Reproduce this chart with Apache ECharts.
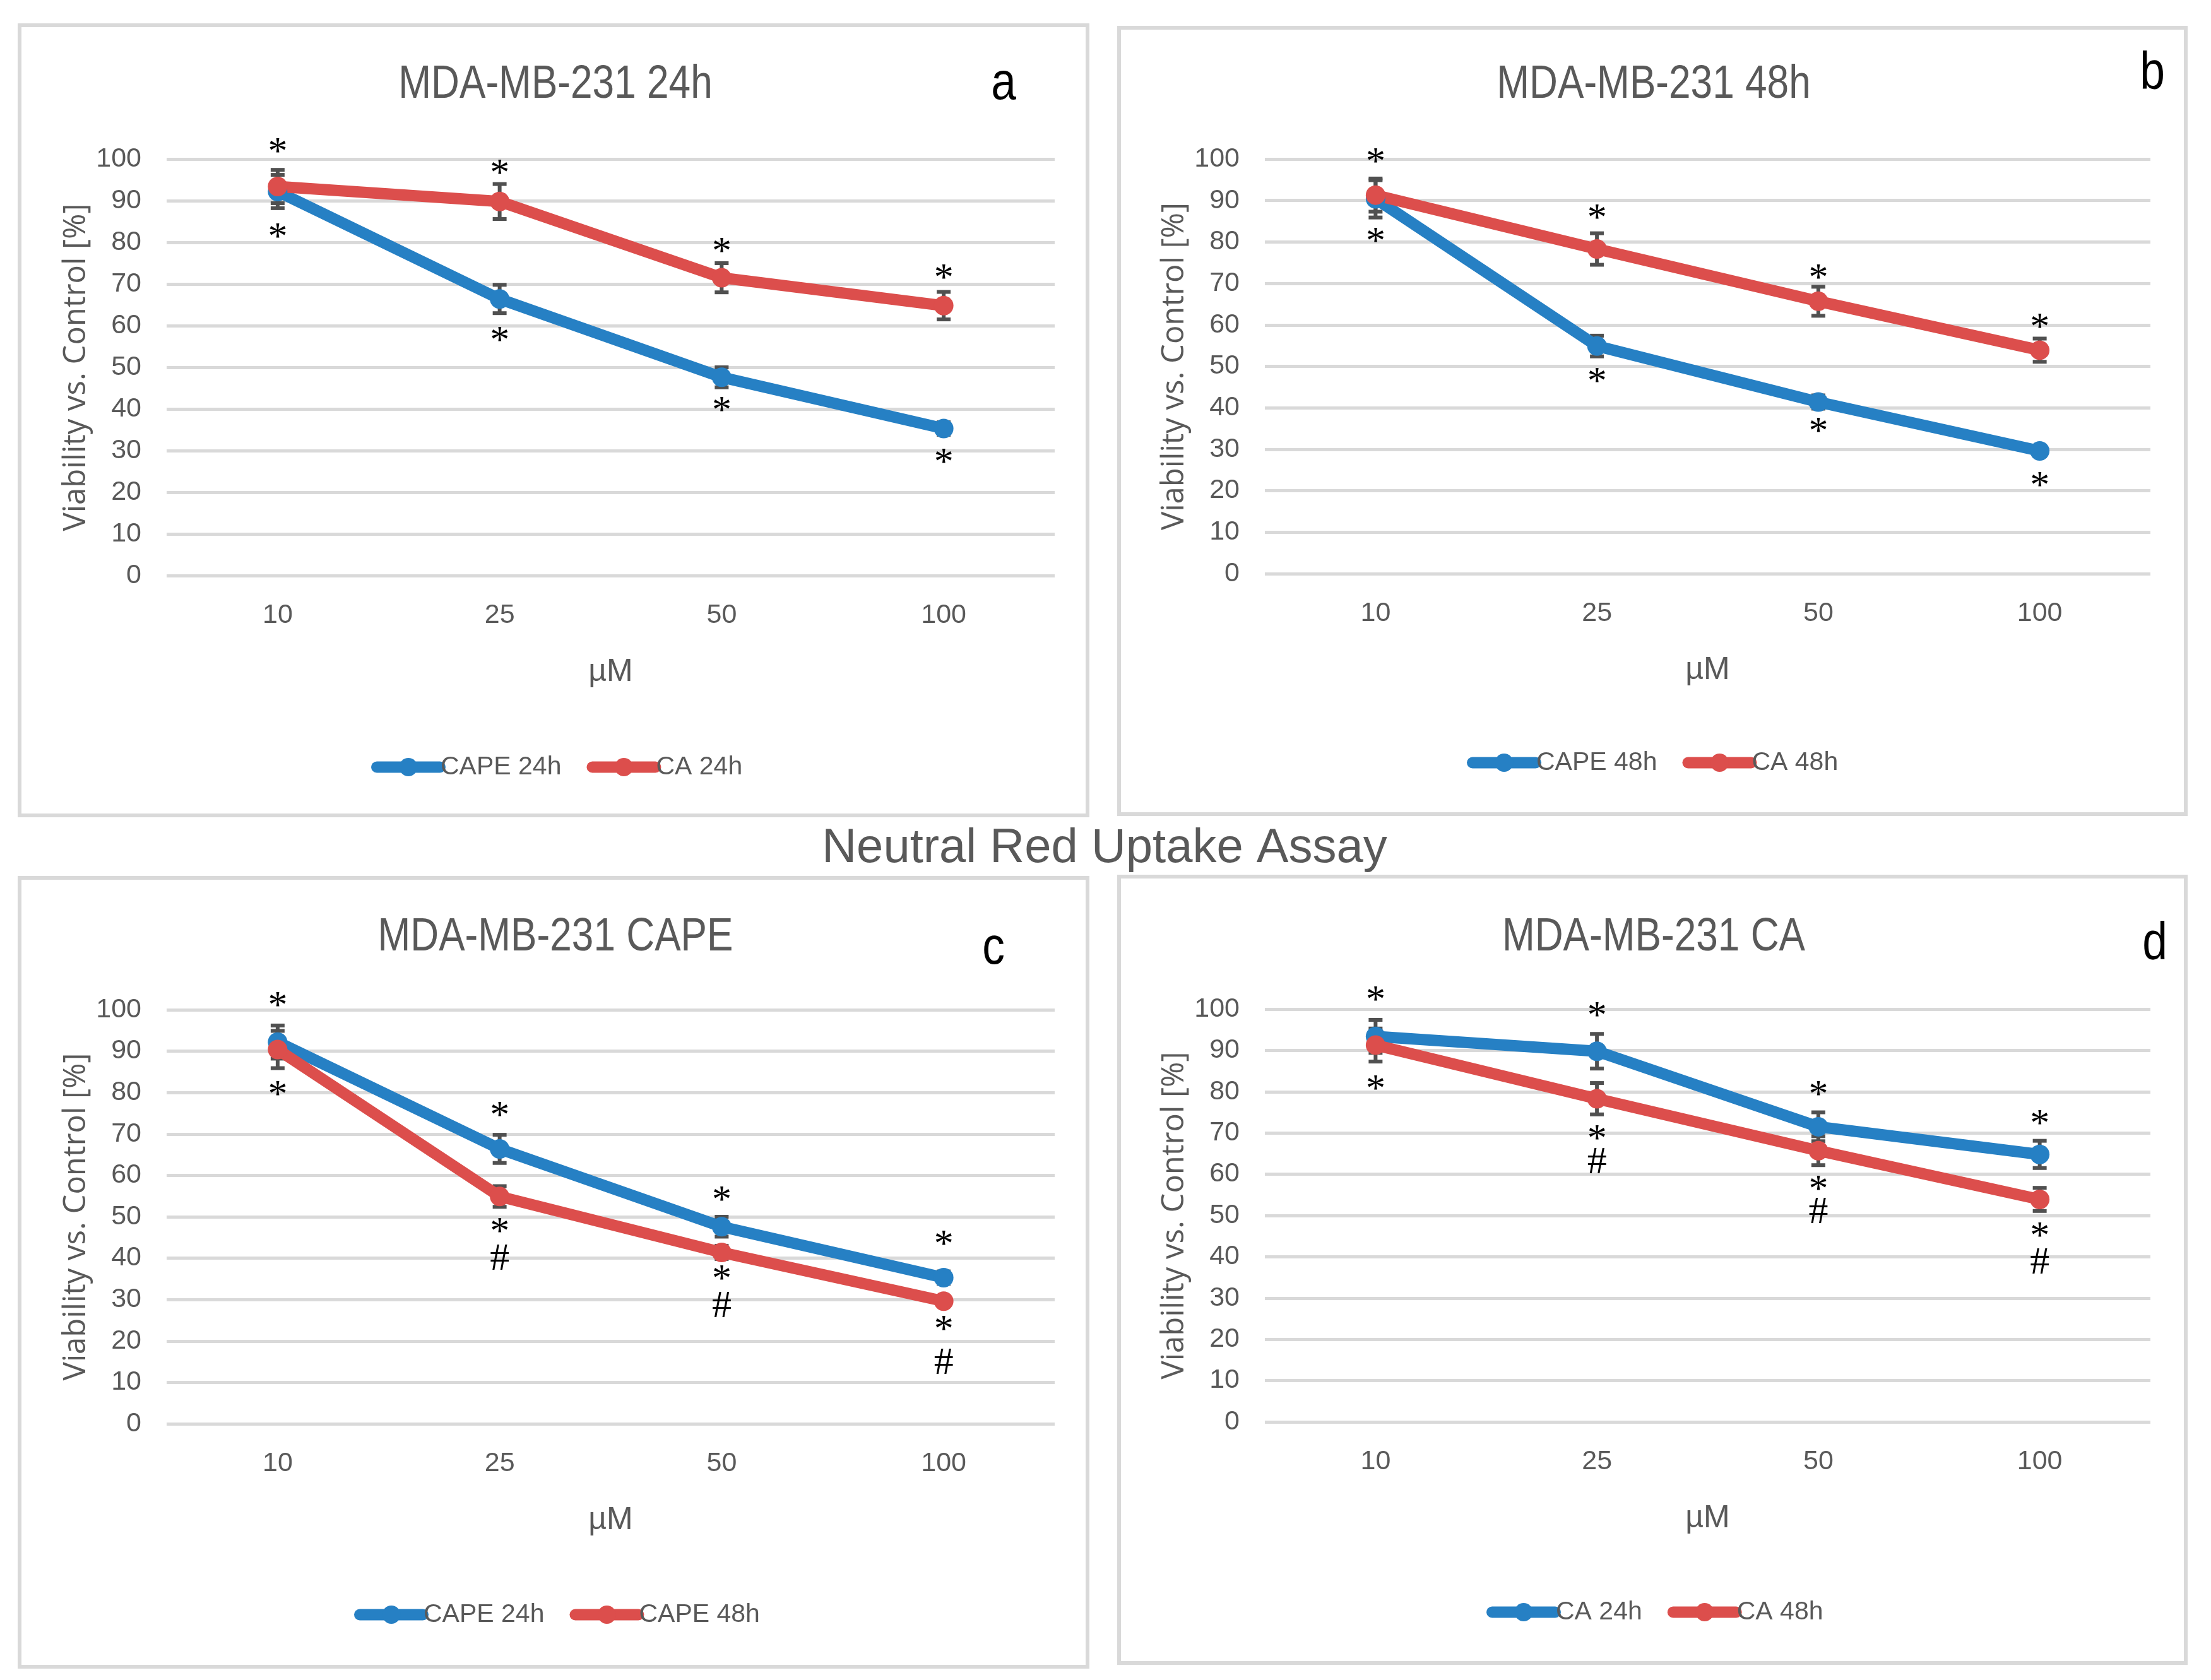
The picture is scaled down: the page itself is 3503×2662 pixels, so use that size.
<!DOCTYPE html>
<html>
<head>
<meta charset="utf-8">
<script src="https://cdn.jsdelivr.net/npm/echarts@6/dist/echarts.min.js"></script>
<style>
html,body{margin:0;padding:0;background:#fff;}
#chart{width:3503px;height:2662px;}
</style>
</head>
<body>
<div id="chart"></div>
<script>
// ---------------- data ----------------
const doses = ['10', '25', '50', '100'];
const yTicks = [0, 10, 20, 30, 40, 50, 60, 70, 80, 90, 100];

const cape24 = [92.2, 66.4, 47.6, 35.3];
const cape24Err = [4.0, 3.4, 2.4, 1.5];
const ca24 = [93.4, 89.8, 71.5, 64.8];
const ca24Err = [4.0, 4.2, 3.5, 3.3];
const cape48 = [90.4, 54.9, 41.4, 29.6];
const cape48Err = [4.5, 2.5, 1.6, 1.2];
const ca48 = [91.3, 78.3, 65.7, 53.9];
const ca48Err = [4.0, 3.8, 3.5, 2.8];

const mainTitle = 'Neutral Red Uptake Assay';
const panelTitles = ['MDA-MB-231 24h', 'MDA-MB-231 48h', 'MDA-MB-231 CAPE', 'MDA-MB-231 CA'];
const panelLetters = ['a', 'b', 'c', 'd'];
const xName = 'µM';
const yName = 'Viability vs. Control [%]';

// significance marks: [dose index, value position, symbol]
const marksA = [[0,102.8,'*'],[0,82.3,'*'],[1,97.6,'*'],[1,57.5,'*'],[2,78.8,'*'],[2,40.6,'*'],[3,72.4,'*'],[3,28.2,'*']];
const marksB = [[0,100.3,'*'],[0,81.2,'*'],[1,86.8,'*'],[1,47.4,'*'],[2,72.4,'*'],[2,35.3,'*'],[3,60.5,'*'],[3,22.2,'*']];
const marksC = [[0,102,'*'],[0,80.5,'*'],[1,75.5,'*'],[1,47.4,'*'],[1,39.7,'#'],[2,55,'*'],[2,36,'*'],[2,28.3,'#'],[3,44.4,'*'],[3,23.8,'*'],[3,14.6,'#']];
const marksD = [[0,103.2,'*'],[0,81.7,'*'],[1,99.5,'*'],[1,69.6,'*'],[1,62.7,'#'],[2,80.3,'*'],[2,57.4,'*'],[2,50.7,'#'],[3,73.3,'*'],[3,46.1,'*'],[3,38.4,'#']];

// ---------------- styles / layout ----------------
const BLUE = '#2680c4';
const RED = '#dc4e4c';
const GREY = '#595959';
const GRID_C = '#d9d9d9';
const ERR_C = '#505050';
const NARROW = '"Liberation Sans Narrow", "Liberation Sans", Arial, sans-serif';
const SANS = '"Open Sans", "Noto Sans", sans-serif';
const MARKFONT = '"Liberation Serif", serif';

const panels = [
  { grid:{left:264, top:252, width:1407, height:660}, box:[31,40,1692,1252], titleX:880, titleY:135, letterX:1590, letterY:134, legendLeft:583, legendTop:1190,
    series:[['CAPE 24h', cape24, cape24Err, BLUE], ['CA 24h', ca24, ca24Err, RED]], marks:marksA },
  { grid:{left:2004, top:252, width:1403, height:657}, box:[1773,44,1690,1246], titleX:2620, titleY:135, letterX:3410, letterY:118, legendLeft:2319, legendTop:1183,
    series:[['CAPE 48h', cape48, cape48Err, BLUE], ['CA 48h', ca48, ca48Err, RED]], marks:marksB },
  { grid:{left:264, top:1600, width:1407, height:656}, box:[31,1391,1692,1250], titleX:880, titleY:1486, letterX:1574, letterY:1504, legendLeft:556, legendTop:2533,
    series:[['CAPE 24h', cape24, cape24Err, BLUE], ['CAPE 48h', cape48, cape48Err, RED]], marks:marksC },
  { grid:{left:2004, top:1599, width:1403, height:654}, box:[1773,1389,1690,1246], titleX:2620, titleY:1486, letterX:3414, letterY:1497, legendLeft:2350, legendTop:2529,
    series:[['CA 24h', ca24, ca24Err, BLUE], ['CA 48h', ca48, ca48Err, RED]], marks:marksD }
];

function errRender(params, api) {
  const i = api.value(0), lo = api.value(1), hi = api.value(2);
  const a = api.coord([i, lo]), b = api.coord([i, hi]);
  const w = 11;
  const st = { stroke: ERR_C, lineWidth: 6 };
  return { type: 'group', children: [
    { type: 'line', shape: { x1: a[0], y1: a[1], x2: b[0], y2: b[1] }, style: st },
    { type: 'line', shape: { x1: a[0]-w, y1: a[1], x2: a[0]+w, y2: a[1] }, style: st },
    { type: 'line', shape: { x1: b[0]-w, y1: b[1], x2: b[0]+w, y2: b[1] }, style: st }
  ]};
}
const markText = {};
function markRender(params, api) {
  const p = api.coord([api.value(0), api.value(1)]);
  const t = markText[params.seriesIndex][params.dataIndex];
  return { type: 'text', x: p[0], y: p[1] + (t === '*' ? 9 : 0), style: {
    text: t, fill: '#000', font: '62px ' + MARKFONT, align: 'center', verticalAlign: 'middle' } };
}

const option = { backgroundColor: '#fff', animation: false,
  title: [], legend: [], grid: [], xAxis: [], yAxis: [], series: [], graphic: [] };

option.title.push({ text: mainTitle, left: 1745, textAlign: 'center', top: 1302,
  textStyle: { fontFamily: '"Liberation Sans", Arial, sans-serif', fontSize: 76, fontWeight: 'normal', color: GREY } });

panels.forEach((p, k) => {
  const tag = panelLetters[k] + '|';
  option.graphic.push({ type: 'rect', shape: { x: p.box[0], y: p.box[1], width: p.box[2], height: p.box[3] },
    style: { fill: 'none', stroke: GRID_C, lineWidth: 6 }, z: -1 });
  option.graphic.push({ type: 'text', x: p.titleX, y: p.titleY, scaleX: 0.84,
    style: { text: panelTitles[k], font: '74px "Liberation Sans", Arial, sans-serif', fill: GREY, align: 'center', verticalAlign: 'middle' } });
  option.graphic.push({ type: 'text', x: p.letterX, y: p.letterY, scaleX: 0.85,
    style: { text: panelLetters[k], font: '84px "Liberation Sans", Arial, sans-serif', fill: '#000', align: 'center', verticalAlign: 'middle' } });
  option.grid.push(p.grid);
  option.xAxis.push({ type: 'category', gridIndex: k, data: doses, boundaryGap: true,
    name: xName, nameLocation: 'middle', nameGap: 128,
    nameTextStyle: { fontFamily: NARROW, fontSize: 50, color: GREY },
    axisLine: { show: false }, axisTick: { show: false },
    axisLabel: { margin: 42, fontFamily: NARROW, fontSize: 43, color: GREY } });
  option.yAxis.push({ type: 'value', gridIndex: k, min: yTicks[0], max: yTicks[yTicks.length-1], interval: 10,
    name: yName, nameLocation: 'middle', nameGap: 118,
    nameTextStyle: { fontFamily: SANS, fontSize: 49, color: GREY },
    axisLine: { show: false }, axisTick: { show: false },
    axisLabel: { margin: 40, fontFamily: NARROW, fontSize: 43, color: GREY },
    splitLine: { lineStyle: { color: GRID_C, width: 5 } } });
  // error bars
  p.series.forEach(s => {
    option.series.push({ type: 'custom', xAxisIndex: k, yAxisIndex: k, renderItem: errRender, z: 2,
      silent: true, data: s[1].map((v, i) => [i, v - s[2][i], v + s[2][i]]) });
  });
  // lines
  p.series.forEach(s => {
    option.series.push({ type: 'line', name: tag + s[0], xAxisIndex: k, yAxisIndex: k, data: s[1], z: 3,
      symbol: 'circle', symbolSize: 31, color: s[3],
      lineStyle: { width: 18, color: s[3] }, itemStyle: { color: s[3] } });
  });
  // marks
  const si = option.series.length;
  markText[si] = p.marks.map(m => m[2]);
  option.series.push({ type: 'custom', xAxisIndex: k, yAxisIndex: k, renderItem: markRender, z: 4,
    silent: true, data: p.marks.map(m => [m[0], m[1]]) });
  option.legend.push({ data: p.series.map(s => tag + s[0]), left: p.legendLeft, top: p.legendTop,
    formatter: n => n.split('|')[1],
    itemWidth: 100, itemHeight: 36, itemGap: 40, selectedMode: false,
    lineStyle: { width: 18, cap: 'round' },
    textStyle: { fontFamily: NARROW, fontSize: 41, color: GREY, padding: [0,0,0,-4] } });
});

const chart = echarts.init(document.getElementById('chart'));
chart.setOption(option);
</script>
</body>
</html>
